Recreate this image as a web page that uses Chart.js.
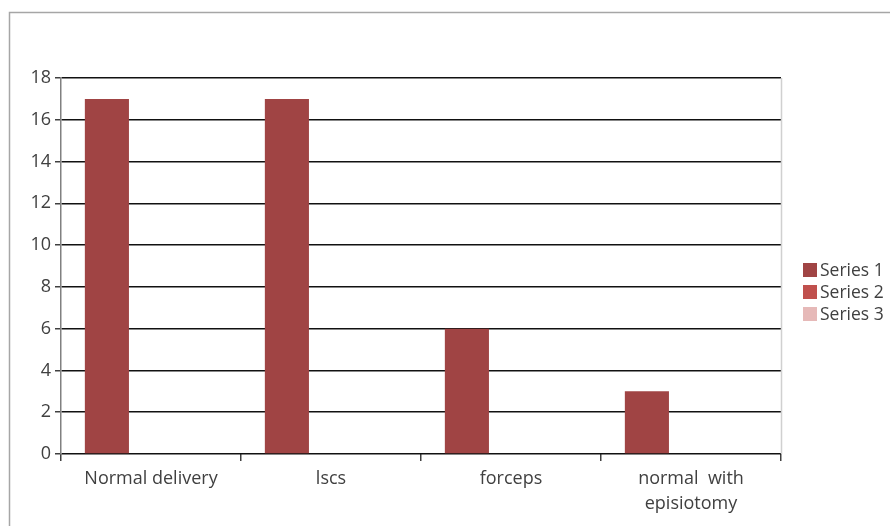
<!DOCTYPE html>
<html>
<head>
<meta charset="utf-8">
<script src="https://cdn.jsdelivr.net/npm/chart.js@4/dist/chart.umd.min.js"></script>
<style>
  html, body { margin: 0; padding: 0; background: #ffffff; }
  #wrap { width: 890px; height: 526px; position: relative; }
</style>
</head>
<body>
<div id="wrap"><canvas id="c" width="890" height="526"></canvas></div>
<script>
// Delivery types and counts
const categories = ['Normal delivery', 'lscs', 'forceps', ['normal  with', 'episiotomy']];
const series1 = [17, 17, 6, 3];
const series2 = [0, 0, 0, 0];
const series3 = [0, 0, 0, 0];
const seriesNames = ['Series 1', 'Series 2', 'Series 3'];
const seriesColors = ['#A04444', '#C0504D', '#E6B9B8'];
const yTicks = [0, 2, 4, 6, 8, 10, 12, 14, 16, 18];

const FONT = "'Open Sans', 'Liberation Sans', sans-serif";
const FONT_SIZE = 18;

// Outer frame and right edge of the plot
const framePlugin = {
  id: 'frame',
  beforeDraw(chart) {
    const ctx = chart.ctx;
    ctx.save();
    ctx.fillStyle = '#ffffff';
    ctx.fillRect(0, 0, chart.width, chart.height);
    ctx.strokeStyle = '#a6a6a6';
    ctx.lineWidth = 1.5;
    ctx.beginPath();
    ctx.moveTo(9.5, chart.height);
    ctx.lineTo(9.5, 12.5);
    ctx.lineTo(chart.width, 12.5);
    ctx.stroke();
    ctx.restore();
  },
  afterDatasetsDraw(chart) {
    const a = chart.chartArea;
    const ctx = chart.ctx;
    ctx.save();
    ctx.strokeStyle = '#d0d0d0';
    ctx.lineWidth = 1.5;
    ctx.beginPath();
    ctx.moveTo(a.right + 0.5, a.top);
    ctx.lineTo(a.right + 0.5, a.bottom);
    ctx.stroke();
    ctx.restore();
  }
};

// Legend box on the right
const legendPlugin = {
  id: 'sideLegend',
  afterDraw(chart) {
    const ctx = chart.ctx;
    const x = 803, y0 = 263, step = 22, box = 14;
    ctx.save();
    ctx.font = '17.5px ' + FONT;
    ctx.textBaseline = 'middle';
    ctx.textAlign = 'left';
    chart.data.datasets.forEach((ds, i) => {
      const y = y0 + i * step;
      ctx.fillStyle = ds.backgroundColor;
      ctx.fillRect(x, y, box, box);
      ctx.fillStyle = '#404040';
      ctx.fillText(ds.label, x + box + 3, y + box / 2 + 1);
    });
    ctx.restore();
  }
};

new Chart(document.getElementById('c'), {
  type: 'bar',
  data: {
    labels: categories,
    datasets: [
      { label: seriesNames[0], data: series1, backgroundColor: seriesColors[0] },
      { label: seriesNames[1], data: series2, backgroundColor: seriesColors[1] },
      { label: seriesNames[2], data: series3, backgroundColor: seriesColors[2] }
    ]
  },
  options: {
    responsive: false,
    animation: false,
    devicePixelRatio: 1,
    layout: { padding: { top: 78, right: 109, bottom: 0, left: 0 } },
    datasets: { bar: { categoryPercentage: 0.735, barPercentage: 1.0 } },
    plugins: { legend: { display: false }, tooltip: { enabled: false } },
    scales: {
      x: {
        offset: true,
        grid: {
          offset: true,
          drawOnChartArea: false,
          drawTicks: true,
          tickLength: 7,
          color: '#404040',
          lineWidth: 1.5
        },
        border: { display: false },
        ticks: {
          color: '#404040',
          font: { family: FONT, size: FONT_SIZE, lineHeight: 25 / FONT_SIZE },
          padding: 5,
          maxRotation: 0,
          autoSkip: false
        },
        afterFit(scale) { scale.height = 72; }
      },
      y: {
        min: 0,
        max: 18,
        afterBuildTicks(scale) { scale.ticks = yTicks.map(v => ({ value: v })); },
        grid: {
          color: '#111111',
          lineWidth: 1.5,
          tickLength: 6,
          tickColor: '#404040'
        },
        border: { display: true, color: '#808080', width: 1.5 },
        ticks: {
          color: '#404040',
          font: { family: FONT, size: FONT_SIZE },
          padding: 4
        },
        afterFit(scale) { scale.width = 61; }
      }
    }
  },
  plugins: [framePlugin, legendPlugin]
});
</script>
</body>
</html>
